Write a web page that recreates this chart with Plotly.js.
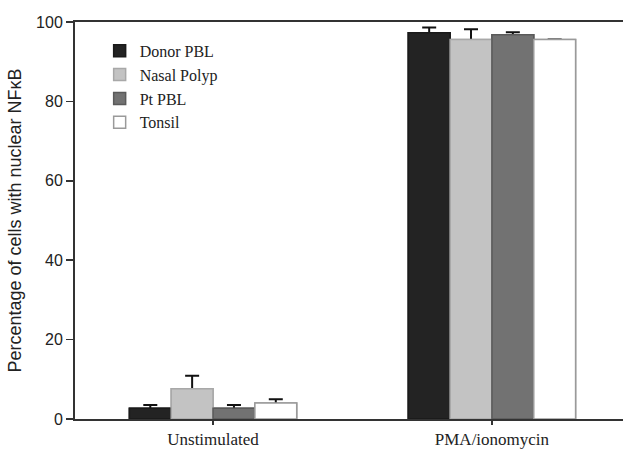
<!DOCTYPE html>
<html>
<head>
<meta charset="utf-8">
<script src="https://cdn.plot.ly/plotly-3.0.1.min.js"></script>
<style>html,body{margin:0;padding:0;background:#fff;}#chart{width:623px;height:449px;}</style>
</head>
<body>
<div id="chart"></div>
<script>
var categories = ["Unstimulated", "PMA/ionomycin"];
var seriesNames = ["Donor PBL", "Nasal Polyp", "Pt PBL", "Tonsil"];
var donorPBL = [2.7, 97.3];
var donorPBLErr = [0.8, 1.3];
var nasalPolyp = [7.6, 95.6];
var nasalPolypErr = [3.3, 2.6];
var ptPBL = [2.7, 96.8];
var ptPBLErr = [0.8, 0.6];
var tonsil = [4.0, 95.6];
var tonsilErr = [1.0, null];
var yTicks = [0, 20, 40, 60, 80, 100];

var values = [donorPBL, nasalPolyp, ptPBL, tonsil];
var errs = [donorPBLErr, nasalPolypErr, ptPBLErr, tonsilErr];
var fills = ["#232323", "#c3c3c3", "#727272", "#ffffff"];
var lines = ["#1a1a1a", "#a8a8a8", "#5a5a5a", "#9a9a9a"];

// lower layer: bars with symmetric error bars
var traces = seriesNames.map(function (name, i) {
  return {
    type: "bar",
    name: name,
    x: categories,
    y: values[i],
    marker: {color: fills[i], line: {color: lines[i], width: 1.5}},
    error_y: {type: "data", array: errs[i], symmetric: true,
              color: "#111", thickness: 2, width: 7, visible: true}
  };
});
// upper layer: same bars redrawn on an overlaid axis, hiding the lower half of each error bar
seriesNames.forEach(function (name, i) {
  traces.push({
    type: "bar",
    name: name,
    x: categories,
    y: values[i],
    xaxis: "x2", yaxis: "y2",
    showlegend: false,
    marker: {color: fills[i], line: {color: lines[i], width: 1.5}}
  });
});

var xRange = [-0.495, 1.47];
var layout = {
  width: 623, height: 449,
  margin: {l: 75, r: 0, t: 22, b: 30},
  paper_bgcolor: "#fff", plot_bgcolor: "rgba(0,0,0,0)",
  barmode: "group", bargap: 0.4, bargroupgap: 0,
  showlegend: true,
  legend: {x: 0.045, y: 0.97, xanchor: "left", yanchor: "top", bgcolor: "rgba(0,0,0,0)",
           font: {family: "Liberation Serif", size: 16, color: "#222"}, tracegroupgap: 0},
  xaxis: {type: "category", range: xRange, showline: true, linecolor: "#333", linewidth: 2,
          mirror: true, ticks: "outside", ticklen: 4, tickwidth: 1.5, tickcolor: "#333",
          showgrid: false, zeroline: false,
          tickfont: {family: "Liberation Serif", size: 17, color: "#222"}},
  yaxis: {range: [0, 100], tickvals: yTicks, showline: true, linecolor: "#333", linewidth: 2,
          ticks: "outside", ticklen: 7, tickwidth: 1.5, tickcolor: "#333",
          showgrid: false, zeroline: false,
          tickfont: {family: "Liberation Sans", size: 16, color: "#222"},
          title: {text: "Percentage of cells with nuclear NF\u03baB", standoff: 10,
                  font: {family: "Liberation Sans", size: 18, color: "#222"}}},
  xaxis2: {type: "category", range: xRange, overlaying: "x", visible: false, matches: "x"},
  yaxis2: {range: [0, 100], overlaying: "y", visible: false, matches: "y"}
};

Plotly.newPlot("chart", traces, layout, {displayModeBar: false, staticPlot: true});
</script>
</body>
</html>
